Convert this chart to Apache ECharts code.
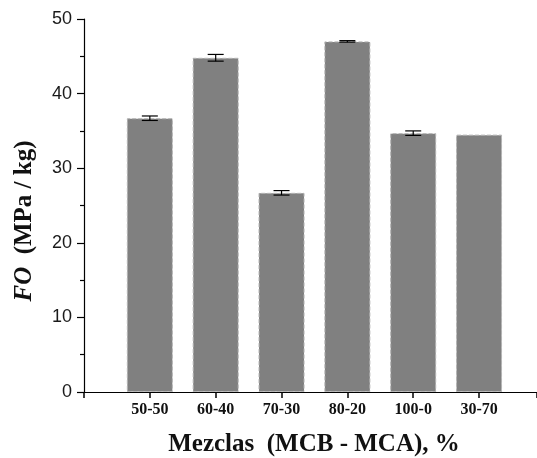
<!DOCTYPE html>
<html>
<head>
<meta charset="utf-8">
<script src="https://cdn.jsdelivr.net/npm/echarts@6/dist/echarts.min.js"></script>
<style>
  html, body { margin: 0; padding: 0; background: #fff; }
  #chart { width: 537px; height: 458px; }
</style>
</head>
<body>
<div id="chart"></div>
<script>
// mezclas MCB - MCA
var categories = ['50-50', '60-40', '70-30', '80-20', '100-0', '30-70'];
var foValues = [36.7, 44.8, 26.7, 47.0, 34.7, 34.5];
var foErrors = [0.3, 0.45, 0.3, 0.1, 0.3, 0];
var yTicks = [0, 10, 20, 30, 40, 50];

// x is a value axis: bar i sits at position i + 1, axis starts one slot before the first bar
var barData = foValues.map(function (v, i) { return [i + 1, v]; });
var errData = foValues.map(function (v, i) { return [i + 1, v, foErrors[i]]; });

var dom = document.getElementById('chart');
var myChart = echarts.init(dom);

var serif = 'Liberation Serif';

option = {
  animation: false,
  grid: {
    left: 84,
    top: 19,
    bottom: 66,
    right: 0
  },
  xAxis: {
    type: 'value',
    min: 0,
    max: 6.88,
    interval: 1,
    axisLine: { show: true, onZero: false, lineStyle: { color: '#000', width: 1.2 } },
    axisTick: {
      show: true,
      inside: false,
      length: 6,
      lineStyle: { color: '#000', width: 1.5 }
    },
    axisLabel: {
      margin: 10,
      fontFamily: serif,
      fontWeight: 'bold',
      fontSize: 16,
      color: '#111',
      hideOverlap: false,
      customValues: [1, 2, 3, 4, 5, 6],
      formatter: function (v) {
        return categories[Math.round(v) - 1] || '';
      }
    },
    splitLine: { show: false }
  },
  yAxis: {
    type: 'value',
    min: yTicks[0],
    max: yTicks[yTicks.length - 1],
    interval: 10,
    axisLine: { show: true, lineStyle: { color: '#000', width: 1.2 } },
    axisTick: { show: true, length: 7, lineStyle: { color: '#000', width: 1.2 } },
    minorTick: { show: true, splitNumber: 2, length: 4, lineStyle: { color: '#000', width: 1.2 } },
    axisLabel: {
      margin: 12,
      fontFamily: 'Liberation Sans',
      fontSize: 18,
      color: '#1a1a1a'
    },
    splitLine: { show: false }
  },
  graphic: [
    {
      type: 'text',
      x: 25,
      y: 221,
      rotation: Math.PI / 2,
      style: {
        text: '{i|FO}  (MPa / kg)',
        rich: {
          i: { fontFamily: serif, fontWeight: 'bold', fontStyle: 'italic', fontSize: 25, fill: '#111' }
        },
        fontFamily: serif,
        fontWeight: 'bold',
        fontSize: 25,
        fill: '#111',
        align: 'center',
        verticalAlign: 'middle'
      }
    },
    {
      type: 'text',
      x: 314,
      y: 445,
      style: {
        text: 'Mezclas  (MCB - MCA), %',
        fontFamily: serif,
        fontWeight: 'bold',
        fontSize: 25,
        fill: '#111',
        align: 'center',
        verticalAlign: 'middle'
      }
    }
  ],
  series: [
    {
      name: 'FO',
      type: 'bar',
      data: barData,
      barWidth: 46,
      itemStyle: {
        color: '#808080',
        borderColor: '#b4b4b4',
        borderType: 'dashed',
        borderWidth: 1
      }
    },
    {
      name: 'error',
      type: 'custom',
      data: errData,
      z: 10,
      renderItem: function (params, api) {
        var x = api.value(0);
        var v = api.value(1);
        var e = api.value(2);
        if (!e) return null;
        var hi = api.coord([x, v + e]);
        var lo = api.coord([x, v - e]);
        var cap = 8;
        var st = { stroke: '#000', lineWidth: 1.2 };
        return {
          type: 'group',
          children: [
            { type: 'line', shape: { x1: hi[0], y1: hi[1], x2: lo[0], y2: lo[1] }, style: st },
            { type: 'line', shape: { x1: hi[0] - cap, y1: hi[1], x2: hi[0] + cap, y2: hi[1] }, style: st },
            { type: 'line', shape: { x1: lo[0] - cap, y1: lo[1], x2: lo[0] + cap, y2: lo[1] }, style: st }
          ]
        };
      }
    }
  ]
};

if (option && typeof option === 'object') {
  myChart.setOption(option, true);
}
</script>
</body>
</html>
